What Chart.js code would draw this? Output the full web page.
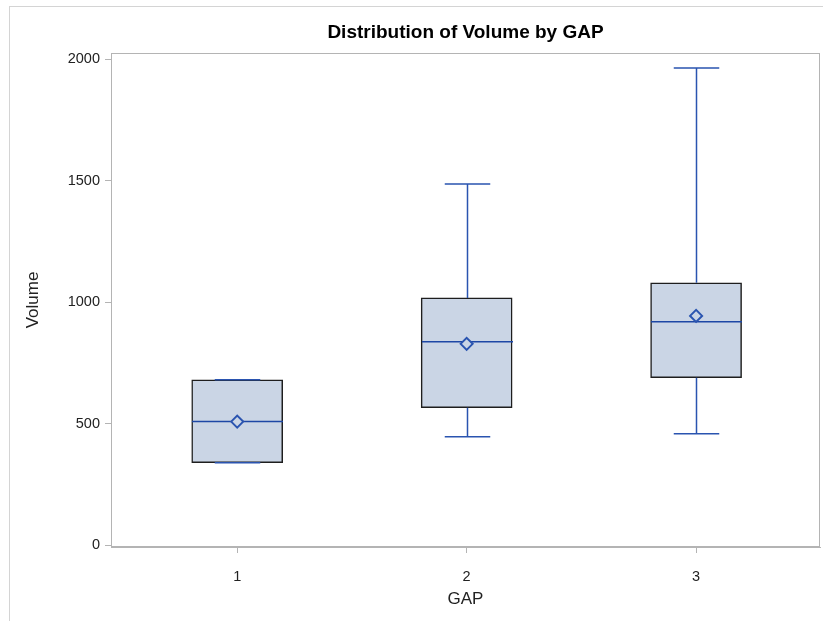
<!DOCTYPE html>
<html>
<head>
<meta charset="utf-8">
<script src="https://cdn.jsdelivr.net/npm/chart.js@4.4.1/dist/chart.umd.min.js"></script>
<style>
  html, body { margin: 0; padding: 0; background: #fff; }
  #wrap { position: relative; width: 823px; height: 621px; }
  #frame { position: absolute; left: 9px; top: 6px; right: -2px; bottom: -2px; border-left: 1px solid #d4d4d4; border-top: 1px solid #d4d4d4; }
  canvas { position: absolute; left: 0; top: 0; }
</style>
</head>
<body>
<div id="wrap"><div id="frame"></div><canvas id="c" width="823" height="621"></canvas></div>
<script>
const categories = [1, 2, 3];
const q1Values = [339, 565, 689];
const q3Values = [680, 1017, 1079];
const medianValues = [508, 837, 919];
const meanValues = [508, 828, 943];
const minValues = [339, 446, 458];
const maxValues = [680, 1486, 1963];
const yTickValues = [0, 500, 1000, 1500, 2000];

const boxFill = '#cad5e5';
const blue = '#2a54b0';
const medianBlue = '#1d47a5';
const FONT = 'Liberation Sans, Arial, sans-serif';

const boxPlugin = {
  id: 'boxParts',
  beforeDatasetsDraw(chart) {
    const a = chart.chartArea, ctx = chart.ctx;
    ctx.save();
    ctx.strokeStyle = '#b4b4b4';
    ctx.lineWidth = 1;
    ctx.strokeRect(a.left + 0.5, a.top + 0.5, a.right - a.left - 1, a.bottom - a.top - 1);
    ctx.restore();
  },
  afterDatasetDraw(chart, args) {
    if (args.index !== 0) return;
    const xs = chart.scales.x, ys = chart.scales.y, ctx = chart.ctx;
    const meta = chart.getDatasetMeta(0);
    ctx.save();
    categories.forEach((c, i) => {
      const bar = meta.data[i];
      const half = bar.width / 2;
      const cx = Math.round(xs.getPixelForValue(c)) + 0.5;
      const yq1 = ys.getPixelForValue(q1Values[i]);
      const yq3 = ys.getPixelForValue(q3Values[i]);
      const yMin = ys.getPixelForValue(minValues[i]);
      const yMax = ys.getPixelForValue(maxValues[i]);
      const yMed = ys.getPixelForValue(medianValues[i]);
      ctx.strokeStyle = blue;
      ctx.lineWidth = 1.5;
      ctx.beginPath();
      ctx.moveTo(cx, yq3); ctx.lineTo(cx, yMax);
      ctx.moveTo(cx, yq1); ctx.lineTo(cx, yMin);
      ctx.moveTo(cx - half / 2, yMax); ctx.lineTo(cx + half / 2, yMax);
      ctx.moveTo(cx - half / 2, yMin); ctx.lineTo(cx + half / 2, yMin);
      ctx.stroke();
      ctx.strokeStyle = medianBlue;
      ctx.beginPath();
      ctx.moveTo(cx - half, yMed); ctx.lineTo(cx + half, yMed);
      ctx.stroke();
    });
    ctx.restore();
  }
};

new Chart(document.getElementById('c'), {
  data: {
    datasets: [
      {
        type: 'bar',
        order: 2,
        data: categories.map((c, i) => ({ x: c, y: [q1Values[i], q3Values[i]] })),
        backgroundColor: boxFill,
        borderColor: '#1e1e1e',
        borderWidth: 1.5,
        borderSkipped: false,
        barThickness: 91
      },
      {
        type: 'scatter',
        order: 1,
        data: categories.map((c, i) => ({ x: c, y: meanValues[i] })),
        pointStyle: 'rectRot',
        pointRadius: 6,
        pointBorderWidth: 2,
        pointBackgroundColor: boxFill,
        pointBorderColor: blue
      }
    ]
  },
  options: {
    responsive: false,
    animation: false,
    layout: { autoPadding: false, padding: { left: 0, right: 3, top: 0, bottom: 0 } },
    plugins: {
      legend: { display: false },
      tooltip: { enabled: false },
      title: {
        display: true,
        fullSize: false,
        text: 'Distribution of Volume by GAP',
        color: '#000',
        font: { family: FONT, size: 19, weight: 'bold' },
        padding: { top: 21.5, bottom: 8.7 }
      }
    },
    scales: {
      x: {
        type: 'linear',
        offset: false,
        min: 0.45,
        max: 3.54,
        afterBuildTicks(s) { s.ticks = categories.map(v => ({ value: v })); },
        afterFit(s) { s.height = 74; s.paddingLeft = 0; s.paddingRight = 0; },
        grid: { offset: false, drawOnChartArea: false, drawTicks: true, tickLength: 6, color: '#b4b4b4' },
        border: { display: true, color: '#b4b4b4' },
        ticks: { color: '#222', padding: 15, font: { family: FONT, size: 14.5 }, callback: v => String(v) },
        title: { display: true, text: 'GAP', color: '#222', font: { family: FONT, size: 17 }, padding: { top: 0, bottom: 11.5 } }
      },
      y: {
        type: 'linear',
        min: -8,
        max: 2025,
        afterBuildTicks(s) { s.ticks = yTickValues.map(v => ({ value: v })); },
        afterFit(s) { s.width = 111; },
        grid: { drawOnChartArea: false, drawTicks: true, tickLength: 6, color: '#b4b4b4' },
        border: { display: true, color: '#b4b4b4' },
        ticks: { color: '#222', padding: 5, font: { family: FONT, size: 14.5 }, callback: v => String(v) },
        title: { display: true, text: 'Volume', color: '#222', font: { family: FONT, size: 17 }, padding: { top: 23.5, bottom: 0 } }
      }
    }
  },
  plugins: [boxPlugin]
});
</script>
</body>
</html>
